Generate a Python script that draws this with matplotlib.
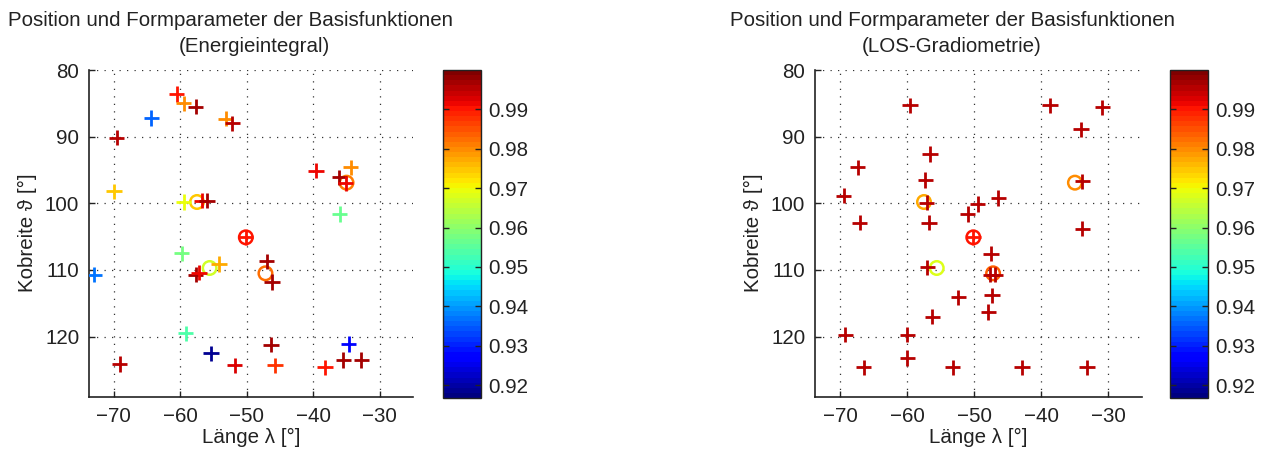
import numpy as np
import matplotlib
matplotlib.use("Agg")
import matplotlib.pyplot as plt
from matplotlib.colors import Normalize

plt.rcParams['font.family'] = ['Liberation Sans', 'DejaVu Sans']

# --- basis functions, energy integral solution (plus markers) ---
lon_energie = [-60.55, -59.5, -57.7, -64.4, -53.2, -52.2, -69.6, -70.0, -59.5,
               -56.8, -56.0, -39.6, -34.4, -36.1, -35.1, -36.0, -59.8, -73.0,
               -57.7, -57.2, -54.2, -50.15, -59.2, -69.15, -55.4, -51.8, -47.0,
               -46.2, -46.35, -45.75, -38.25, -35.5, -32.8, -34.7]
lat_energie = [83.6, 85.0, 85.5, 87.2, 87.3, 88.0, 90.15, 98.2, 99.8,
               99.6, 99.6, 95.1, 94.6, 96.1, 97.0, 101.6, 107.5, 110.7,
               110.7, 110.4, 109.1, 105.1, 119.5, 124.1, 122.5, 124.3, 108.7,
               111.8, 121.2, 124.3, 124.6, 123.5, 123.5, 121.1]
val_energie = [0.990, 0.980, 0.997, 0.935, 0.980, 0.996, 0.996, 0.974, 0.969,
               0.991, 0.997, 0.991, 0.980, 0.997, 0.991, 0.956, 0.958, 0.937,
               0.997, 0.991, 0.977, 0.990, 0.954, 0.995, 0.919, 0.993, 0.997,
               0.997, 0.997, 0.988, 0.990, 0.997, 0.997, 0.928]

# --- basis functions, LOS gradiometry solution (plus markers) ---
lon_los = [-59.6, -56.6, -67.4, -57.3, -69.5, -57.1, -51.0, -49.5, -67.1,
           -56.75, -38.7, -30.9, -34.1, -33.9, -46.4, -33.9, -50.15, -57.0,
           -52.4, -56.25, -69.25, -60.0, -60.0, -66.5, -53.25, -47.5, -47.6,
           -46.9, -47.35, -47.9, -42.9, -33.2]
lat_los = [85.3, 92.6, 94.6, 96.5, 98.85, 99.9, 101.6, 100.1, 102.9,
           102.9, 85.3, 85.6, 88.9, 96.7, 99.2, 103.8, 105.1, 109.6,
           114.1, 117.0, 119.7, 119.7, 123.2, 124.6, 124.6, 107.55, 110.7,
           110.7, 113.8, 116.3, 124.6, 124.6]
val_los = [0.996, 0.996, 0.996, 0.996, 0.996, 0.996, 0.996, 0.996, 0.996,
           0.996, 0.996, 0.996, 0.996, 0.996, 0.996, 0.996, 0.990, 0.996,
           0.996, 0.996, 0.996, 0.996, 0.996, 0.996, 0.996, 0.996, 0.996,
           0.996, 0.996, 0.996, 0.996, 0.996]

# --- reference positions (circles) ---
lon_ref = [-57.5, -35.0, -55.6, -50.15, -47.2]
lat_ref = [99.8, 96.9, 109.7, 105.1, 110.5]
val_ref_energie = [0.974, 0.981, 0.967, 0.990, 0.982]
val_ref_los = [0.977, 0.980, 0.968, 0.990, 0.984]

titles = ["(Energieintegral)", "(LOS-Gradiometrie)"]
title_main = "Position und Formparameter der Basisfunktionen"
x_ticks = [-70, -60, -50, -40, -30]
y_ticks = [80, 90, 100, 110, 120]
cb_ticks = [0.92, 0.93, 0.94, 0.95, 0.96, 0.97, 0.98, 0.99]

VMIN, VMAX = 0.9167, 1.0
FS = 14.8
W, H = 1270, 457

cmap = plt.get_cmap('jet', 64)
norm = Normalize(VMIN, VMAX)

fig = plt.figure(figsize=(W / 100, H / 100), dpi=100)

panels = [
    dict(ax=(89, 70, 324, 327), cax=(443, 70, 38, 328), lon=lon_energie,
         lat=lat_energie, val=val_energie, ref=val_ref_energie,
         t1x=231, t2x=254, xlx=251, ylx=27),
    dict(ax=(815, 70, 327, 327), cax=(1170, 70, 38, 328), lon=lon_los,
         lat=lat_los, val=val_los, ref=val_ref_los,
         t1x=952, t2x=952, xlx=978, ylx=753),
]


def px_rect(x, y, w, h):
    return [x / W, 1 - (y + h) / H, w / W, h / H]


for p, sub in zip(panels, titles):
    ax = fig.add_axes(px_rect(*p['ax']))
    ax.set_xlim(-73.75, -25.0)
    ax.set_ylim(129.05, 80)
    ax.set_xticks(x_ticks)
    ax.set_yticks(y_ticks)
    ax.tick_params(direction='in', length=4, width=1, labelsize=FS,
                   colors='#222222', pad=7)
    for s in ('top', 'right'):
        ax.spines[s].set_visible(False)
    for s in ('left', 'bottom'):
        ax.spines[s].set_linewidth(1.2)
        ax.spines[s].set_color('#222222')
    ax.grid(True, color='#333333', linestyle=(0, (1, 5)), linewidth=0.9)
    ax.set_axisbelow(True)

    # reference circles underneath, plus markers on top
    ax.scatter(lon_ref, lat_ref, s=95, marker='o', facecolors='none',
               edgecolors=cmap(norm(np.array(p['ref']))), linewidths=1.8,
               zorder=3)
    ax.scatter(p['lon'], p['lat'], c=p['val'], cmap=cmap, norm=norm,
               marker='+', s=120, linewidths=2.0, zorder=4)

    cax = fig.add_axes(px_rect(*p['cax']))
    sm = matplotlib.cm.ScalarMappable(norm=norm, cmap=cmap)
    cb = fig.colorbar(sm, cax=cax, ticks=cb_ticks)
    cb.ax.set_yticklabels([f"{t:.2f}" for t in cb_ticks])
    cb.outline.set_linewidth(1.0)
    cb.outline.set_edgecolor('#222222')
    cax.tick_params(direction='in', left=True, right=True, labelleft=False,
                    labelright=True, length=4, width=1, labelsize=FS,
                    colors='#222222', pad=5)

    fig.text(p['t1x'] / W, 1 - 21 / H, title_main, ha='center', va='center',
             fontsize=FS, color='#222222')
    fig.text(p['t2x'] / W, 1 - 47 / H, sub, ha='center', va='center',
             fontsize=FS, color='#222222')
    fig.text(p['xlx'] / W, 1 - 437 / H, "Länge λ [°]", ha='center',
             va='center', fontsize=FS, color='#222222')
    fig.text(p['ylx'] / W, 1 - 233 / H, "Kobreite ϑ [°]", ha='center',
             va='center', rotation=90, fontsize=FS, color='#222222')

fig.savefig("out.png", dpi=100, facecolor='white')
